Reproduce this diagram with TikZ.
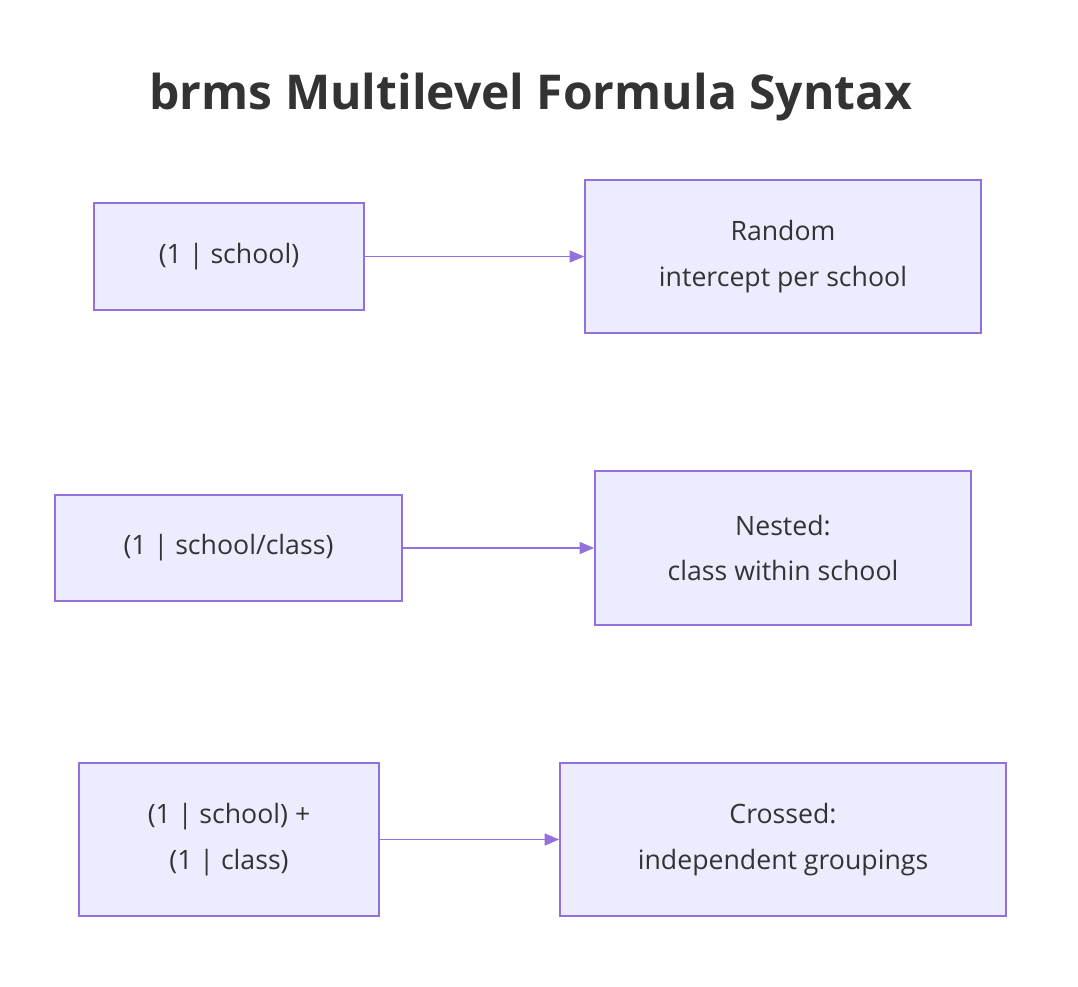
\documentclass[tikz,border=0pt]{standalone}
\usepackage{fontspec}
\setmainfont{Open Sans}
\usetikzlibrary{arrows.meta}
\definecolor{nodefill}{HTML}{ECECFF}
\definecolor{nodeline}{HTML}{9370DB}
\definecolor{txt}{HTML}{333333}
\begin{document}
\begin{tikzpicture}[x=0.75pt,y=-0.75pt,
  box/.style={draw=nodeline,fill=nodefill,line width=1.2pt,text=txt,align=center,
    font=\fontsize{20}{34}\selectfont,inner sep=0pt},
  arr/.style={draw=nodeline,line width=1.2pt,-{Triangle[length=11pt,width=9pt]}}]
\useasboundingbox (0,0) rectangle (1078,986);
\node[text=txt,font=\fontsize{36}{40}\selectfont\bfseries] (title) at (531,97) {brms Multilevel Formula Syntax};
\node[box,minimum width=202.5pt,minimum height=80pt] (a) at (229,256.5) {(1 | school)};
\node[box,minimum width=297pt,minimum height=114.75pt] (b) at (783,256.5) {Random\\intercept per school};
\node[box,minimum width=260.25pt,minimum height=79.5pt] (c) at (228.5,548) {(1 | school/class)};
\node[box,minimum width=282pt,minimum height=115.5pt] (d) at (783,548) {Nested:\\class within school};
\node[box,minimum width=225pt,minimum height=114.75pt] (e) at (229,839.5) {(1 | school) +\\(1 | class)};
\node[box,minimum width=334.5pt,minimum height=114.75pt] (f) at (783,839.5) {Crossed:\\independent groupings};
\draw[arr] (a) -- (b);
\draw[arr] (c) -- (d);
\draw[arr] (e) -- (f);
\end{tikzpicture}
\end{document}
